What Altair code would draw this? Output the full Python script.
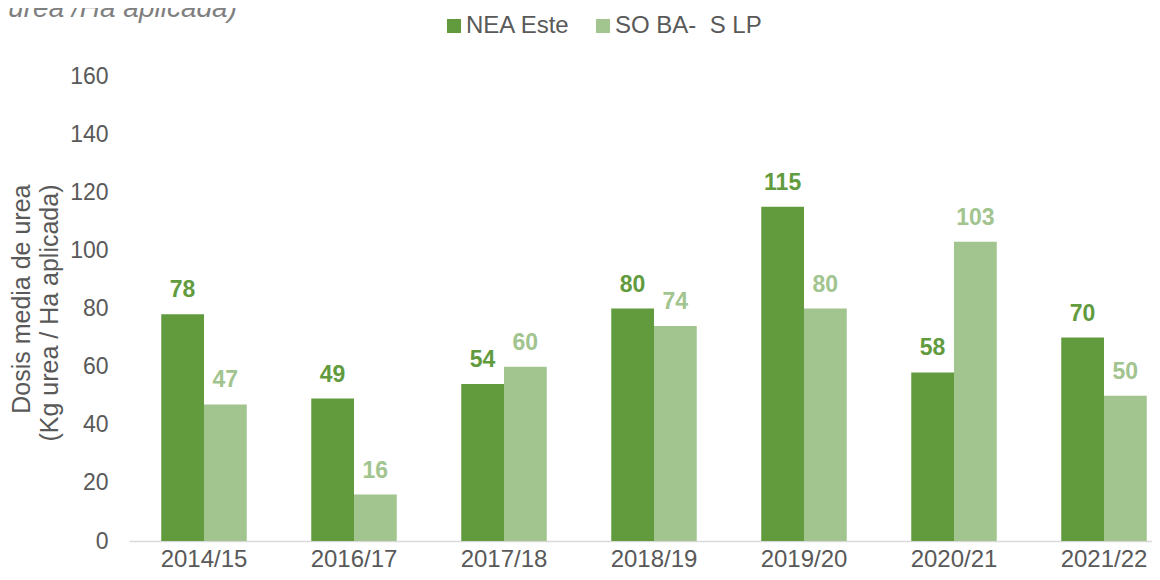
import altair as alt
import pandas as pd

seasons = ["2014/15", "2016/17", "2017/18", "2018/19", "2019/20", "2020/21", "2021/22"]
nea_este = [78, 49, 54, 80, 115, 58, 70]
so_ba_slp = [47, 16, 60, 74, 80, 103, 50]
series_names = ["NEA Este", "SO BA-\u00a0 S LP"]
colors = ["#629b3e", "#a2c48f"]
y_ticks = [0, 20, 40, 60, 80, 100, 120, 140, 160]
y_title = ["Dosis media de urea", "(Kg urea / Ha aplicada)"]
corner_title = ["Dosis media de urea (Kg urea /Ha aplicada)"]

rows = []
for i, s in enumerate(seasons):
    rows.append({"campana": s, "serie": series_names[0], "dosis": nea_este[i]})
    rows.append({"campana": s, "serie": series_names[1], "dosis": so_ba_slp[i]})
df = pd.DataFrame(rows)

FONT = "Liberation Sans"
GRAY = "#595959"

x_enc = alt.X(
    "campana:N", sort=seasons, title=None,
    scale=alt.Scale(range=[0, 1050], paddingInner=0.43, paddingOuter=0.215),
    axis=alt.Axis(labelAngle=0, labelFontSize=24, labelColor=GRAY, labelFont=FONT,
                  domainColor="#d9d9d9", domainWidth=1.5, ticks=False, tickSize=0,
                  labelPadding=25, labelBaseline="alphabetic", grid=False),
)
xoff_enc = alt.XOffset("serie:N", sort=series_names,
                       scale=alt.Scale(domain=series_names, paddingInner=0, paddingOuter=0))
y_enc = alt.Y(
    "dosis:Q",
    scale=alt.Scale(domain=[0, 160], nice=False),
    axis=alt.Axis(values=y_ticks, title=y_title, titleFontSize=25, titleFont=FONT,
                  titleColor=GRAY, titleFontWeight="normal", titleAngle=270,
                  titleAlign="right", titleBaseline="alphabetic", titleX=-100, titleY=108,
                  titleLineHeight=28, labelFontSize=23, labelFont=FONT, labelColor=GRAY,
                  labelPadding=21, domain=False, ticks=False, tickSize=0, grid=False),
)
color_scale = alt.Scale(domain=series_names, range=colors)

bars = alt.Chart(df).mark_bar().encode(
    x=x_enc, xOffset=xoff_enc, y=y_enc,
    color=alt.Color("serie:N", sort=series_names, scale=color_scale,
                    legend=alt.Legend(orient="none", legendX=307, legendY=-62,
                                      direction="horizontal", title=None,
                                      symbolType="square", symbolSize=196,
                                      symbolStrokeWidth=0, symbolOffset=6,
                                      labelFontSize=24, labelFont=FONT, labelColor=GRAY,
                                      labelOffset=0, columnPadding=14, padding=0)),
)

labels = alt.Chart(df).mark_text(dy=-17, fontSize=23, fontWeight="bold", font=FONT,
                                 baseline="alphabetic").encode(
    x=x_enc, xOffset=xoff_enc, y=y_enc,
    text=alt.Text("dosis:Q"),
    color=alt.Color("serie:N", sort=series_names, scale=color_scale, legend=None),
)

corner = alt.Chart(pd.DataFrame({"t": corner_title})).mark_text(
    align="right", baseline="alphabetic", fontSize=28, fontStyle="italic",
    font=FONT, color="#7f7f7f").encode(
    x=alt.value(108), y=alt.value(-59), text="t:N")

chart = alt.layer(bars, labels, corner).properties(
    width=1023, height=465,
    autosize=alt.AutoSizeParams(type="none"),
    padding={"left": 121, "top": 68, "right": 0, "bottom": 31},
).configure_view(stroke=None)

chart.save("out.html", embed_options={"renderer": "svg", "actions": False})
